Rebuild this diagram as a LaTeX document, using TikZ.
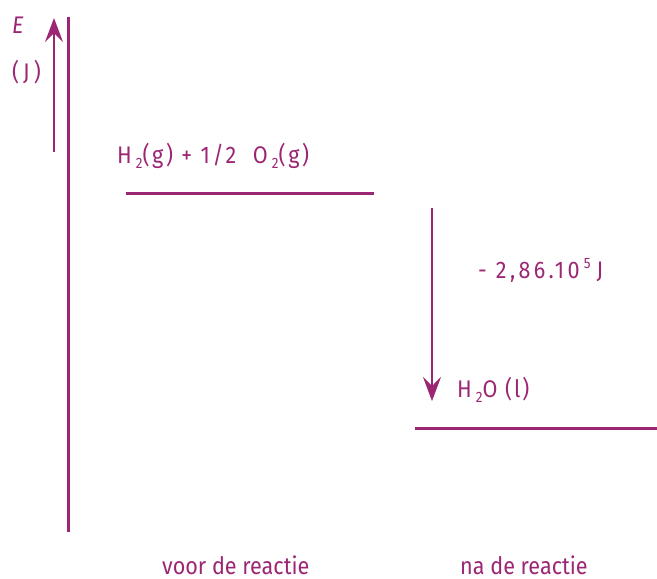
\documentclass[tikz,border=0pt]{standalone}
\usepackage{fontspec}
\setmainfont[FakeStretch=0.9]{Fira Sans}
\usetikzlibrary{arrows.meta}
\definecolor{plum}{RGB}{155,38,115}
\newcommand{\lowtwo}{\raisebox{-5pt}{\fontsize{15pt}{15pt}\selectfont 2}}
\tikzset{
  x=1pt, y=-1pt,
  lbl/.style={anchor=base west, inner sep=0pt, text=plum, font=\fontsize{24pt}{26pt}\selectfont},
  axisline/.style={draw=plum, line width=3pt},
  levelline/.style={draw=plum, line width=3pt},
  energyarrow/.style={draw=plum, line width=1.4pt, -{Stealth[length=24pt,width=18pt,inset=9pt]}}
}
\begin{document}
\begin{tikzpicture}
\useasboundingbox (0,0) rectangle (657,579);
% axis
\coordinate (axtop) at (68,17);
\coordinate (axbot) at (68,532);
\draw[axisline] (axtop) -- (axbot);
\coordinate (uparrS) at (54,152);
\coordinate (uparrE) at (54,18);
\draw[energyarrow] (uparrS) -- (uparrE);
\node[lbl, font=\fontsize{24pt}{26pt}\selectfont\itshape] (E) at (12,33) {E};
\node[lbl] (unit) at (12,80) {(\,J\,)};
% levels
\coordinate (l1a) at (126,193);
\coordinate (l1b) at (374,193);
\draw[levelline] (l1a) -- (l1b);
\coordinate (l2a) at (415,428);
\coordinate (l2b) at (657,428);
\draw[levelline] (l2a) -- (l2b);
\node[lbl] (react) at (117,163) {\addfontfeature{LetterSpace=11}H\,\lowtwo(g) + 1/2\ \ O\,\lowtwo(g)};
\node[lbl] (prod) at (457,397) {\addfontfeature{LetterSpace=8}H\,\lowtwo O (l)};
% down arrow
\coordinate (dnS) at (432,208);
\coordinate (dnE) at (432,401);
\draw[energyarrow] (dnS) -- (dnE);
\node[lbl] (dH) at (478,278) {\addfontfeature{LetterSpace=14}- 2,86.10\,\raisebox{10pt}{\fontsize{15pt}{15pt}\selectfont 5}\hspace{6pt}J};
% bottom labels
\node[lbl] (voor) at (162,574) {voor de reactie};
\node[lbl] (na) at (460,574) {na de reactie};
\end{tikzpicture}
\end{document}
